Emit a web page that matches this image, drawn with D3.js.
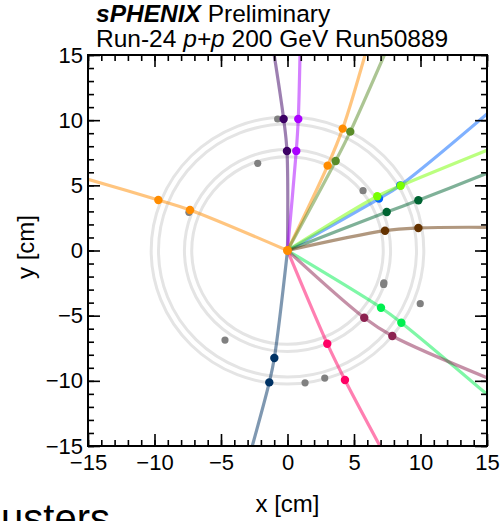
<!DOCTYPE html>
<html>
<head>
<meta charset="utf-8">
<script src="https://cdn.jsdelivr.net/npm/d3@7"></script>
<style>
  body { margin: 0; background: #fff; }
  svg { display: block; font-family: "Liberation Sans", Arial, Helvetica, sans-serif; }
</style>
</head>
<body>
<script>
// detector layer radii [cm]
let ringRadii = [7.2, 7.75, 9.7, 10.25];

// tracks: colour, two clusters, point where track leaves the frame
let trackColors = ["#ff8c00", "#3c0064", "#aa00ff", "#ff8c00", "#5a8c28", "#0064ff", "#78ff00",
    "#006432", "#643200", "#00f050", "#8c2250", "#ff0064", "#003264"];
let trackInner = [[-7.33, 3.11], [-0.04, 7.64], [0.66, 7.64], [3.02, 6.51], [3.62, 6.87], [6.88, 3.98], [6.75, 4.16],
    [7.46, 2.95], [7.33, 1.52], [7.03, -4.39], [5.77, -5.16], [2.99, -7.15], [-0.99, -8.25]];
let trackOuter = [[-9.71, 3.88], [-0.29, 10.09], [0.81, 10.09], [4.15, 9.35], [4.72, 9.12], [8.48, 5.00], [8.51, 4.97],
    [9.84, 3.85], [9.84, 1.73], [8.56, -5.54], [7.88, -6.56], [4.32, -9.94], [-1.37, -10.12]];
let trackExit = [[-15, 5.46], [-1.0, 15], [0.94, 15], [5.83, 15], [7.28, 15], [15, 10.48], [15, 7.69],
    [15, 5.92], [15, 1.78], [15, -11.04], [15, -9.76], [6.95, -15], [-2.65, -15]];

// clusters not attached to any track
let strayX = [-7.41, -0.74, -2.24, 5.68, 7.23, 7.25, 9.98, 1.32, 2.80, -4.70];
let strayY = [2.93, 10.09, 6.69, 4.59, -2.60, -2.48, -4.08, -10.15, -9.79, -6.87];

let vertex = [0, 0];

let majorTicks = [-15, -10, -5, 0, 5, 10, 15];
let minorTicks = d3.range(-15, 16, 1);

let width = 502, height = 521;
let plot = {left: 88, right: 487, top: 55, bottom: 446};

let svg = d3.select("body").append("svg")
    .attr("width", width)
    .attr("height", height);

let x = d3.scaleLinear().domain([-15, 15]).range([plot.left, plot.right]);
let y = d3.scaleLinear().domain([-15, 15]).range([plot.bottom, plot.top]);

svg.append("clipPath").attr("id", "frame")
    .append("rect")
    .attr("x", plot.left).attr("y", plot.top)
    .attr("width", plot.right - plot.left).attr("height", plot.bottom - plot.top);

// rings
svg.append("g").selectAll("ellipse")
    .data(ringRadii)
    .join("ellipse")
    .attr("cx", x(0))
    .attr("cy", y(0))
    .attr("rx", d => x(d) - x(0))
    .attr("ry", d => y(0) - y(d))
    .attr("fill", "none")
    .attr("stroke", "#e4e4e4")
    .attr("stroke-width", 3);

// track lines
let line = d3.line()
    .x(d => x(d[0]))
    .y(d => y(d[1]))
    .curve(d3.curveCatmullRom.alpha(0.5));

let tracks = trackColors.map((c, i) => ({
    color: c,
    pts: [vertex, trackInner[i], trackOuter[i], trackExit[i]]
}));

svg.append("g").attr("clip-path", "url(#frame)")
    .selectAll("path")
    .data(tracks)
    .join("path")
    .attr("d", d => line(d.pts))
    .attr("fill", "none")
    .attr("stroke", d => d.color)
    .attr("stroke-opacity", 0.5)
    .attr("stroke-width", 3.2);

// stray clusters
svg.append("g").selectAll("circle")
    .data(strayX.map((v, i) => [v, strayY[i]]))
    .join("circle")
    .attr("cx", d => x(d[0]))
    .attr("cy", d => y(d[1]))
    .attr("r", 3.6)
    .attr("fill", "#808080");

// track clusters
let dots = [];
tracks.forEach((t, i) => {
    dots.push({p: trackInner[i], color: t.color});
    dots.push({p: trackOuter[i], color: t.color});
});
svg.append("g").selectAll("circle")
    .data(dots)
    .join("circle")
    .attr("cx", d => x(d.p[0]))
    .attr("cy", d => y(d.p[1]))
    .attr("r", 4.2)
    .attr("fill", d => d.color);

// vertex
svg.append("circle")
    .attr("cx", x(vertex[0]))
    .attr("cy", y(vertex[1]))
    .attr("r", 4.5)
    .attr("fill", "#ff8c00");

// axes with inward ticks
function addAxis(axisFn, scale, tx, ty, vals, size, labels) {
    let ax = axisFn(scale).tickValues(vals).tickSizeInner(-size).tickSizeOuter(0).tickPadding(labels ? (axisFn === d3.axisBottom ? 8 : 5) : 0);
    if (!labels) ax.tickFormat("");
    let g = svg.append("g")
        .attr("transform", "translate(" + tx + "," + ty + ")")
        .call(ax);
    g.select(".domain").remove();
    g.selectAll("line").attr("stroke", "#000").attr("stroke-width", 1.6);
    g.selectAll("text").attr("fill", "#000").attr("font-size", 22).attr("font-family", null);
    return g;
}

addAxis(d3.axisBottom, x, 0, plot.bottom, minorTicks, 6, false);
addAxis(d3.axisBottom, x, 0, plot.bottom, majorTicks, 12, true);
addAxis(d3.axisTop, x, 0, plot.top, minorTicks, 6, false);
addAxis(d3.axisTop, x, 0, plot.top, majorTicks, 12, false);
addAxis(d3.axisLeft, y, plot.left, 0, minorTicks, 6, false);
addAxis(d3.axisLeft, y, plot.left, 0, majorTicks, 12, true);
addAxis(d3.axisRight, y, plot.right, 0, minorTicks, 6, false);
addAxis(d3.axisRight, y, plot.right, 0, majorTicks, 12, false);

svg.append("rect")
    .attr("x", plot.left).attr("y", plot.top)
    .attr("width", plot.right - plot.left).attr("height", plot.bottom - plot.top)
    .attr("fill", "none")
    .attr("stroke", "#000")
    .attr("stroke-width", 2);

// titles
let t1 = svg.append("text").attr("x", 96).attr("y", 22).attr("font-size", 24.5);
t1.append("tspan").attr("font-weight", "bold").attr("font-style", "italic").text("sPHENIX");
t1.append("tspan").text(" Preliminary");

let t2 = svg.append("text").attr("x", 96).attr("y", 47).attr("font-size", 24.5);
t2.append("tspan").text("Run-24 ");
t2.append("tspan").attr("font-style", "italic").text("p+p");
t2.append("tspan").text(" 200 GeV Run50889");

svg.append("text")
    .attr("x", x(0))
    .attr("y", 512)
    .attr("text-anchor", "middle")
    .attr("font-size", 24)
    .text("x [cm]");

svg.append("text")
    .attr("transform", "translate(34,247) rotate(-90)")
    .attr("text-anchor", "middle")
    .attr("font-size", 24)
    .text("y [cm]");

// caption below the frame, mostly cut off by the page edge
svg.append("text")
    .attr("x", 110)
    .attr("y", 532)
    .attr("text-anchor", "end")
    .attr("font-size", 40)
    .text("Clusters");
</script>
</body>
</html>
